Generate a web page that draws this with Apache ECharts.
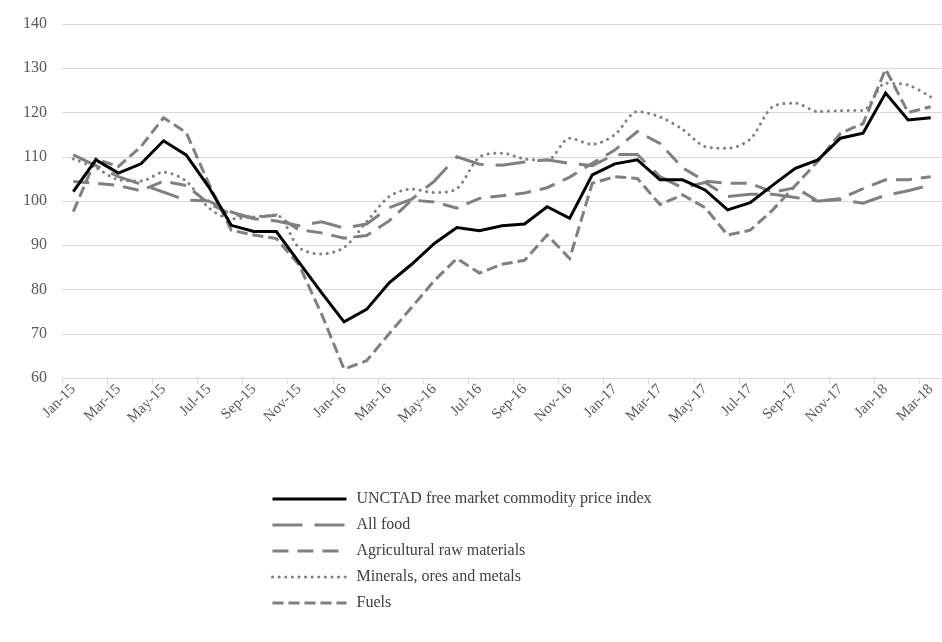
<!DOCTYPE html>
<html>
<head>
<meta charset="utf-8">
<script src="https://cdn.jsdelivr.net/npm/echarts@6/dist/echarts.min.js"></script>
<style>
html,body{margin:0;padding:0;background:#fff;}
#chart{width:942px;height:642px;}
</style>
</head>
<body>
<div id="chart"></div>
<script>
const categories = ["Jan-15","Feb-15","Mar-15","Apr-15","May-15","Jun-15","Jul-15","Aug-15","Sep-15","Oct-15","Nov-15","Dec-15",
  "Jan-16","Feb-16","Mar-16","Apr-16","May-16","Jun-16","Jul-16","Aug-16","Sep-16","Oct-16","Nov-16","Dec-16",
  "Jan-17","Feb-17","Mar-17","Apr-17","May-17","Jun-17","Jul-17","Aug-17","Sep-17","Oct-17","Nov-17","Dec-17",
  "Jan-18","Feb-18","Mar-18"];

const unctad = [102.1,109.3,106.3,108.4,113.6,110.4,103.2,94.5,93.1,93.1,86.2,79.3,
  72.7,75.5,81.5,85.7,90.4,94,93.3,94.4,94.8,98.7,96.1,105.9,
  108.4,109.3,104.8,104.8,102.5,98,99.6,103.6,107.4,109.3,114.2,115.3,
  124.4,118.3,118.8];

const allFood = [110.4,108,105.5,103.8,102,100.2,100,97.5,96,95.5,94.4,95.3,
  93.9,94.8,98.5,100.4,104.5,110,108.3,108.1,108.8,109.3,108.5,108,
  110.5,110.5,105.5,103,104.2,101,101.5,101.5,100.8,100,100.3,99.5,
  101.3,102.3,103.6];

const agriRaw = [104.4,104,103.5,102.3,104.5,103.5,99.5,97,96.3,96.8,93.5,92.8,
  91.6,92.2,95.5,100.2,99.8,98.4,100.6,101.2,101.8,103,105.4,108.5,
  111.5,115.7,113,107.5,104.5,104,104,102,103,100,100.5,102.8,
  104.8,104.8,105.5];

const minerals = [109.5,107.5,104.8,104.5,106.5,104.5,98.5,96,96.4,96.8,89.5,88,
  89.5,95.3,101,102.7,101.9,102.8,109.9,110.8,109.5,109.2,114.2,112.8,
  115,120.2,119,116.2,112.3,111.9,114,121.3,122.1,120.2,120.4,120.5,
  126.6,126.2,123.5];

const fuels = [97.6,109.5,107.8,112.3,118.8,115.5,104,93.4,92.3,91.5,85.6,74.5,
  62,63.9,70,76,82,87,83.7,85.7,86.6,92.3,87,104,
  105.5,105.1,99.2,101.4,98.5,92.3,93.4,98,103.5,109,115.3,117.5,
  129.8,120,121.3];

const yTicks = {min: 60, max: 140, interval: 10};

const FONT = '"Liberation Serif", "Times New Roman", serif';
const GRAY = '#808080';

const chart = echarts.init(document.getElementById('chart'), null, {renderer: 'canvas'});

function lineSeries(name, data, color, type, extra) {
  return Object.assign({
    name: name,
    type: 'line',
    data: data,
    symbol: 'none',
    showSymbol: false,
    animation: false,
    lineStyle: {color: color, width: 3, type: type, cap: 'butt', join: 'miter'},
    itemStyle: {color: color}
  }, extra || {});
}

chart.setOption({
  animation: false,
  backgroundColor: '#ffffff',
  grid: {left: 62, top: 24, width: 891, height: 354, containLabel: false},
  xAxis: {
    type: 'category',
    data: categories,
    boundaryGap: true,
    axisLine: {show: true, lineStyle: {color: '#d9d9d9', width: 1}},
    axisTick: {show: true, interval: 1, length: 6, lineStyle: {color: '#d9d9d9'}},
    axisLabel: {interval: 1, rotate: 45, margin: 9, color: '#595959', fontFamily: FONT, fontSize: 15},
    splitLine: {show: false}
  },
  yAxis: {
    type: 'value',
    min: yTicks.min, max: yTicks.max, interval: yTicks.interval,
    axisLine: {show: false},
    axisTick: {show: false},
    axisLabel: {color: '#595959', fontFamily: FONT, fontSize: 16, margin: 15},
    splitLine: {show: true, lineStyle: {color: '#d9d9d9', width: 1}}
  },
  legend: {
    orient: 'vertical',
    left: 266,
    top: 486,
    itemWidth: 74,
    itemHeight: 14,
    itemGap: 10,
    itemStyle: {opacity: 0},
    lineStyle: {width: 3},
    textStyle: {color: '#404040', fontFamily: FONT, fontSize: 16, padding: [0, 0, 0, 5]},
    data: ['UNCTAD free market commodity price index','All food','Agricultural raw materials','Minerals, ores and metals','Fuels']
  },
  series: [
    lineSeries('UNCTAD free market commodity price index', unctad, '#000000', 'solid', {z: 5}),
    lineSeries('All food', allFood, GRAY, [30, 12]),
    lineSeries('Agricultural raw materials', agriRaw, GRAY, [16, 9]),
    Object.assign(lineSeries('Minerals, ores and metals', minerals, GRAY, [0.1, 6.5], {smooth: 0.3}),
      {lineStyle: {color: GRAY, width: 3, type: [0.1, 6.5], cap: 'round'}}),
    lineSeries('Fuels', fuels, GRAY, [11, 5])
  ]
});
</script>
</body>
</html>
